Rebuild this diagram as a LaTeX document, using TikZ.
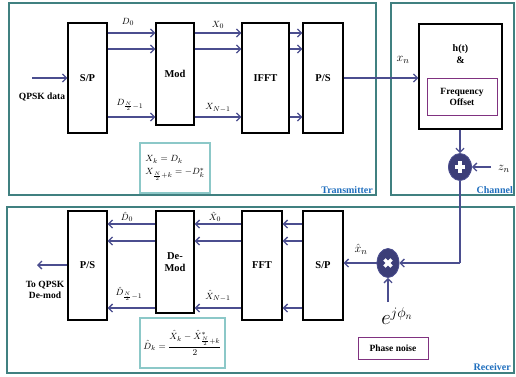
\documentclass[tikz,border=0pt]{standalone}
\usepackage{fontspec}
\setmainfont{Liberation Serif}
\usetikzlibrary{arrows.meta,calc,shapes.geometric}
\definecolor{navy}{RGB}{75,78,143}
\definecolor{panel}{RGB}{64,128,128}
\definecolor{lteal}{RGB}{140,200,200}
\definecolor{purp}{RGB}{128,50,128}
\definecolor{lblue}{RGB}{30,110,190}
\definecolor{dot}{RGB}{60,62,120}
\begin{document}
\begin{tikzpicture}[x=1pt,y=-1pt,
  panelbox/.style={draw=panel,line width=1.3pt},
  blk/.style={draw=black,line width=1.3pt,fill=white,font=\fontsize{10.5}{11.5}\selectfont\bfseries},
  fbox/.style={draw=lteal,line width=2pt,fill=white},
  pbox/.style={draw=purp,line width=1pt,font=\fontsize{9.5}{11}\selectfont\bfseries,align=center},
  arr/.style={draw=navy,line width=1.4pt,-{Straight Barb[length=4pt,width=8pt,line width=1.3pt]}},
  ln/.style={draw=navy,line width=1.4pt},
  lab/.style={font=\fontsize{9.5}{10}\selectfont},
  tag/.style={text=lblue,font=\fontsize{10}{11}\selectfont\bfseries,inner sep=1pt}]
\useasboundingbox (0,0) rectangle (516,376);
\fill[white] (0,0) rectangle (516,376);
% panels
\draw[panelbox] (9,3) rectangle (376,195);
\draw[panelbox] (391,3) rectangle (514,195);
\draw[panelbox] (7,207) rectangle (514,373);
\node[tag,anchor=south east] (ttx) at (374,195) {Transmitter};
\node[tag,anchor=south east] (tch) at (514,195) {Channel};
\node[tag,anchor=south east] (trx) at (512,372) {Receiver};
% rows
\coordinate (r1) at (0,33);
\coordinate (r2) at (0,49);
\coordinate (r3) at (0,117);
\coordinate (rm) at (0,78);
\coordinate (q1) at (0,224);
\coordinate (q2) at (0,241);
\coordinate (q3) at (0,308);
\coordinate (qm) at (0,263);
% transmitter blocks
\node[blk,minimum width=39pt,minimum height=110pt] (sp) at (87.5,78) {S/P};
\node[blk,minimum width=38pt,minimum height=102pt] (mod) at (175,74) {Mod};
\node[blk,minimum width=47pt,minimum height=110pt] (ifft) at (265.5,78) {IFFT};
\node[blk,minimum width=40pt,minimum height=110pt] (ps) at (323,78) {P/S};
\coordinate (qin) at (32,78);
\draw[arr] (qin) -- (sp.west |- rm);
\node[font=\fontsize{9.5}{10}\selectfont\bfseries] (qlab) at (42,97) {QPSK data};
\foreach \r in {r1,r2,r3}{
  \draw[arr] (sp.east |- \r) -- (mod.west |- \r);
  \draw[arr] (mod.east |- \r) -- (ifft.west |- \r);
  \draw[arr] (ifft.east |- \r) -- (ps.west |- \r);
}
\node[lab] (d0) at (128,22) {$D_0$};
\node[lab] (x0) at (218,25) {$X_0$};
\node[lab] (dn) at (130,105) {$D_{\frac{N}{2}-1}$};
\node[lab] (xn1) at (218,108) {$X_{N-1}$};
\node[fbox,minimum width=70pt,minimum height=50pt,align=left,font=\fontsize{9.5}{10}\selectfont] (f1) at (175,168)
  {$X_k = D_k$\\[3pt] $X_{\frac{N}{2}+k} = -D_k^{*}$};
% channel
\node[blk,minimum width=83pt,minimum height=105pt] (ch) at (460.5,76.5) {};
\node[font=\fontsize{10}{12}\selectfont\bfseries,align=center] (ht) at (460.5,54) {h(t)\\\&};
\node[pbox,minimum width=70pt,minimum height=37pt] (fo) at (462,96.5) {Frequency\\Offset};
\draw[arr] (ps.east |- rm) -- (ch.west |- rm);
\node[font=\fontsize{13}{14}\selectfont] (xnl) at (403,60) {$x_n$};
% adder
\node[draw=navy,fill=dot,ellipse,minimum width=23pt,minimum height=27pt,inner sep=0pt,line width=0.8pt] (add) at (460,167) {};
\draw[white,line width=3.5pt] ($(add.center)+(-5,0)$) -- ($(add.center)+(5,0)$);
\draw[white,line width=3.5pt] ($(add.center)+(0,-6)$) -- ($(add.center)+(0,6)$);
\draw[arr] (ch.south -| add) -- (add.north);
\node[font=\fontsize{13}{14}\selectfont] (zn) at (504,169) {$z_n$};
\coordinate (zs) at (491,167);
\draw[arr] (zs) -- (add.east);
% receiver blocks
\node[blk,minimum width=39pt,minimum height=109pt] (ps2) at (87.5,265.5) {P/S};
\node[blk,minimum width=38pt,minimum height=102pt,align=center] (dm) at (175,262) {De-\\Mod};
\node[blk,minimum width=40pt,minimum height=109pt] (fft) at (262,265.5) {FFT};
\node[blk,minimum width=40pt,minimum height=109pt] (sp2) at (323,265.5) {S/P};
\foreach \r in {q1,q2,q3}{
  \draw[arr] (dm.west |- \r) -- (ps2.east |- \r);
  \draw[arr] (fft.west |- \r) -- (dm.east |- \r);
  \draw[arr] (sp2.west |- \r) -- (fft.east |- \r);
}
\coordinate (qout) at (37,265);
\draw[arr] (ps2.west |- qout) -- (qout);
\node[font=\fontsize{9.5}{11}\selectfont\bfseries,align=center] (tq) at (45,290) {To QPSK\\De-mod};
\node[lab] (hd0) at (127,217) {$\hat{D}_0$};
\node[lab] (hx0) at (215,217) {$\hat{X}_0$};
\node[lab] (hdn) at (129,294) {$\hat{D}_{\frac{N}{2}-1}$};
\node[lab] (hxn) at (218,296) {$\hat{X}_{N-1}$};
\node[fbox,minimum width=81pt,minimum height=50pt,font=\fontsize{9.5}{10}\selectfont] (f2) at (182.5,343)
  {$\displaystyle\hat{D}_k = \frac{\hat{X}_k - \hat{X}^{*}_{\frac{N}{2}+k}}{2}$};
% multiplier
\node[draw=navy,fill=dot,ellipse,minimum width=22pt,minimum height=29pt,inner sep=0pt,line width=0.8pt] (mul) at (388,263) {};
\draw[white,line width=3.5pt,rotate around={45:(mul.center)}] ($(mul.center)+(-5,0)$) -- ($(mul.center)+(5,0)$);
\draw[white,line width=3.5pt,rotate around={45:(mul.center)}] ($(mul.center)+(0,-5)$) -- ($(mul.center)+(0,5)$);
\coordinate (corner) at (460,263);
\draw[ln] (add.south) -- (corner);
\draw[arr] (corner) -- (mul.east);
\draw[arr] (mul.west) -- (sp2.east |- mul);
\node[font=\fontsize{13}{14}\selectfont] (hxl) at (361,249) {$\hat{x}_n$};
\node (ephi) at (397,316) {\fontsize{20}{22}\selectfont$e^{j\phi_n}$};
\coordinate (es) at (388,302);
\draw[arr] (es) -- (mul.south);
\node[pbox,minimum width=70pt,minimum height=22pt] (pn) at (393,348) {Phase noise};
\end{tikzpicture}
\end{document}
